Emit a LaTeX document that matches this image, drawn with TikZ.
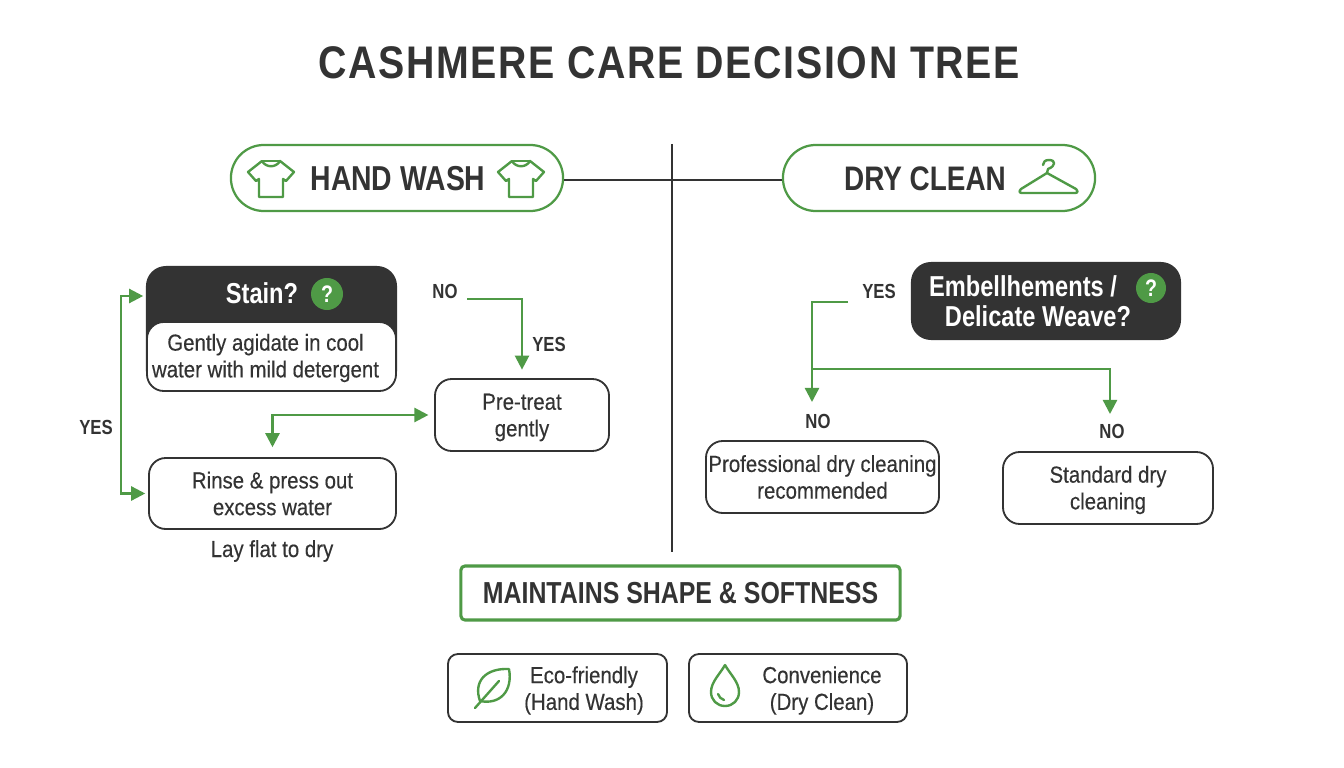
\documentclass[tikz,border=0pt]{standalone}
\usepackage{fontspec}
\setmainfont[FakeStretch=0.82]{Liberation Sans}
\newfontfamily\bodyfont[FakeStretch=0.88,FakeBold=0.3]{Liberation Sans}
\newfontfamily\titlefont[FakeStretch=0.86,LetterSpace=3.6]{Liberation Sans}
\usetikzlibrary{arrows.meta}

\definecolor{leafgreen}{HTML}{4F9A46}
\definecolor{inkdark}{HTML}{333333}

\tikzset{
  pill/.style={draw=leafgreen,line width=1.6pt,rounded corners=0.82cm,inner sep=0pt},
  card/.style={draw=inkdark,fill=white,line width=1.3pt,rounded corners=0.42cm,inner sep=0pt,
    align=center,text=inkdark,font=\bodyfont\fontsize{16.5}{19}\selectfont},
  darkcard/.style={fill=inkdark,rounded corners=0.5cm,inner sep=0pt,align=center,text=white,
    font=\bfseries\fontsize{20.5}{21.5}\selectfont},
  badge/.style={circle,fill=leafgreen,text=white,inner sep=0pt,minimum size=0.8cm,
    font=\bfseries\fontsize{17}{20}\selectfont},
  tag/.style={text=inkdark,font=\bfseries\fontsize{14.5}{17}\selectfont},
  plain/.style={align=center,text=inkdark,font=\bodyfont\fontsize{16.5}{19}\selectfont},
  flow/.style={draw=leafgreen,line width=1.7pt,-{Triangle[length=10pt,width=10pt]}},
  flowboth/.style={draw=leafgreen,line width=1.7pt,{Triangle[length=10pt,width=10pt]}-{Triangle[length=10pt,width=10pt]}},
  iconline/.style={draw=leafgreen,line width=1.7pt,line join=round,line cap=round},
  tshirt/.pic={
    \draw[iconline] (-9,-18) -- (-23,-7) -- (-15,2) -- (-12,0) -- (-12,18) -- (12,18) -- (12,0)
      -- (15,2) -- (23,-7) -- (9,-18) .. controls (5,-11) and (-5,-11) .. (-9,-18);
    \draw[iconline] (-9,-18) -- (9,-18);
  },
  hanger/.pic={
    \draw[iconline] (-1,-5) -- (28,11) .. controls (30,13) and (30,15) .. (27,15) -- (-26,15)
      .. controls (-29,15) and (-29,13) .. (-27,11) -- (-1,-5);
    \draw[iconline] (-1,-5) -- (0,-9) .. controls (8,-12) and (8,-18) .. (1,-18)
      .. controls (-3,-18) and (-5,-16) .. (-5,-13);
  },
  leaf/.pic={
    \draw[iconline] (17,-20) .. controls (-6,-21) and (-19,-8) .. (-12,12)
      .. controls (8,16) and (21,2) .. (17,-20);
    \draw[iconline] (-17,19) -- (7,-8);
  },
  droplet/.pic={
    \draw[iconline] (0,-21) .. controls (-5,-12) and (-14,-4) .. (-14,6)
      .. controls (-14,14) and (-8,20) .. (0,20) .. controls (8,20) and (14,14) .. (14,6)
      .. controls (14,-4) and (5,-12) .. (0,-21);
    \draw[iconline] (-7,8) .. controls (-6,11) and (-4,13) .. (-1,14);
  }
}

\begin{document}
\begin{tikzpicture}[x=0.025cm,y=-0.025cm]

  % Page
  \useasboundingbox (0,0) rectangle (1344,768);

  % Title
  \node[text=inkdark,font=\titlefont\bfseries\fontsize{32.5}{40}\selectfont] (title) at (669,63) {CASHMERE CARE DECISION TREE};

  % Top row
  \node[pill,minimum width=8.3cm,minimum height=1.65cm] (handwash) at (397,178) {};
  \node[pill,minimum width=7.8cm,minimum height=1.65cm] (dryclean) at (939,178) {};
  \node[text=inkdark,font=\bfseries\fontsize{24.6}{28}\selectfont] (handlabel) at (398,179) {HAND WASH};
  \node[text=inkdark,font=\bfseries\fontsize{24.2}{28}\selectfont] (drylabel) at (925,179) {DRY CLEAN};
  \pic at (271,179) {tshirt};
  \pic at (521,179) {tshirt};
  \pic at (1048,178) {hanger};

  % Divider
  \coordinate (dividertop) at (672,144);
  \coordinate (dividerbottom) at (672,552);
  \draw[inkdark,line width=1.8pt] (dividertop) -- (dividerbottom);
  \draw[inkdark,line width=1.8pt] ([yshift=-1.4pt]handwash.east) -- ([yshift=-1.4pt]dryclean.west);

  % Hand wash side
  \node[darkcard,minimum width=6.275cm,minimum height=3.125cm] (stain) at (271.5,328.5) {};
  \node[text=white,font=\bfseries\fontsize{20.5}{21}\selectfont] (stainlabel) at (262,293) {Stain?};
  \node[badge] (stainbadge) at (327,294) {?};
  \node[card,minimum width=6.225cm,minimum height=1.725cm] (agitate) at (271.5,356.5) {};
  \node[plain] (agitatelabel) at (265.5,358) {Gently agidate in cool\\water with mild detergent};
  \node[card,minimum width=4.35cm,minimum height=1.8cm] (pretreat) at (522,415) {};
  \node[plain] (pretreatlabel) at (522,417.5) {Pre-treat\\gently};
  \node[card,minimum width=6.175cm,minimum height=1.775cm] (rinse) at (272.5,493.5) {Rinse \& press out\\excess water};
  \node[plain] (layflat) at (272,551) {Lay flat to dry};
  \node[tag] (handyes) at (96,427) {YES};
  \node[tag] (handno) at (445,291) {NO};
  \node[tag] (pretreatyes) at (549,344) {YES};

  % Hand wash arrows
  \coordinate (stainin) at (146,296);
  \coordinate (yesbend) at (121,427);
  \coordinate (nostart) at (467,299);
  \draw[flowboth,shorten <=2pt,shorten >=2pt] (stainin) -| (yesbend) |- (rinse.west);
  \draw[flow,shorten >=6pt] (nostart) -| (pretreat.north);
  \draw[flowboth,shorten <=7pt,shorten >=4pt] (rinse.north) |- (pretreat.west);

  % Dry clean side
  \node[darkcard,minimum width=6.75cm,minimum height=1.95cm] (embellish) at (1046,301) {Embellhements /\rule{1.15cm}{0pt}\\Delicate Weave?\rule{0.4cm}{0pt}};
  \node[badge,minimum size=0.75cm] (embellishbadge) at (1151,288) {?};
  \node[card,minimum width=5.825cm,minimum height=1.8cm] (professional) at (822.5,477) {Professional dry cleaning\\recommended};
  \node[card,minimum width=5.25cm,minimum height=1.8cm] (standard) at (1108,488) {};
  \node[plain] (standardlabel) at (1108,490) {Standard dry\\cleaning};
  \node[tag] (dryyes) at (879,291) {YES};
  \node[tag] (profno) at (818,421) {NO};
  \node[tag] (standardno) at (1112,431) {NO};

  % Dry clean arrows
  \coordinate (yesstart) at (848,302);
  \coordinate (profin) at (812,402);
  \coordinate (branch) at (812,369);
  \coordinate (standardin) at (1110,414);
  \draw[flow] (yesstart) -| (profin);
  \draw[flow] (branch) -| (standardin);

  % Bottom boxes
  \node[draw=leafgreen,line width=2.2pt,rounded corners=0.1cm,minimum width=10.975cm,minimum height=1.35cm,
    text=inkdark,font=\bfseries\fontsize{21.6}{25}\selectfont] (maintains) at (680.5,593) {MAINTAINS SHAPE \& SOFTNESS};
  \node[card,rounded corners=0.25cm,minimum width=5.475cm,minimum height=1.7cm] (eco) at (557.5,688) {};
  \node[card,rounded corners=0.25cm,minimum width=5.45cm,minimum height=1.7cm] (convenience) at (798,688) {};
  \node[plain] (ecolabel) at (584,690.5) {Eco-friendly\\(Hand Wash)};
  \node[plain] (convlabel) at (822,690.5) {Convenience\\(Dry Clean)};
  \pic at (492,689) {leaf};
  \pic at (725,686) {droplet};

\end{tikzpicture}
\end{document}
